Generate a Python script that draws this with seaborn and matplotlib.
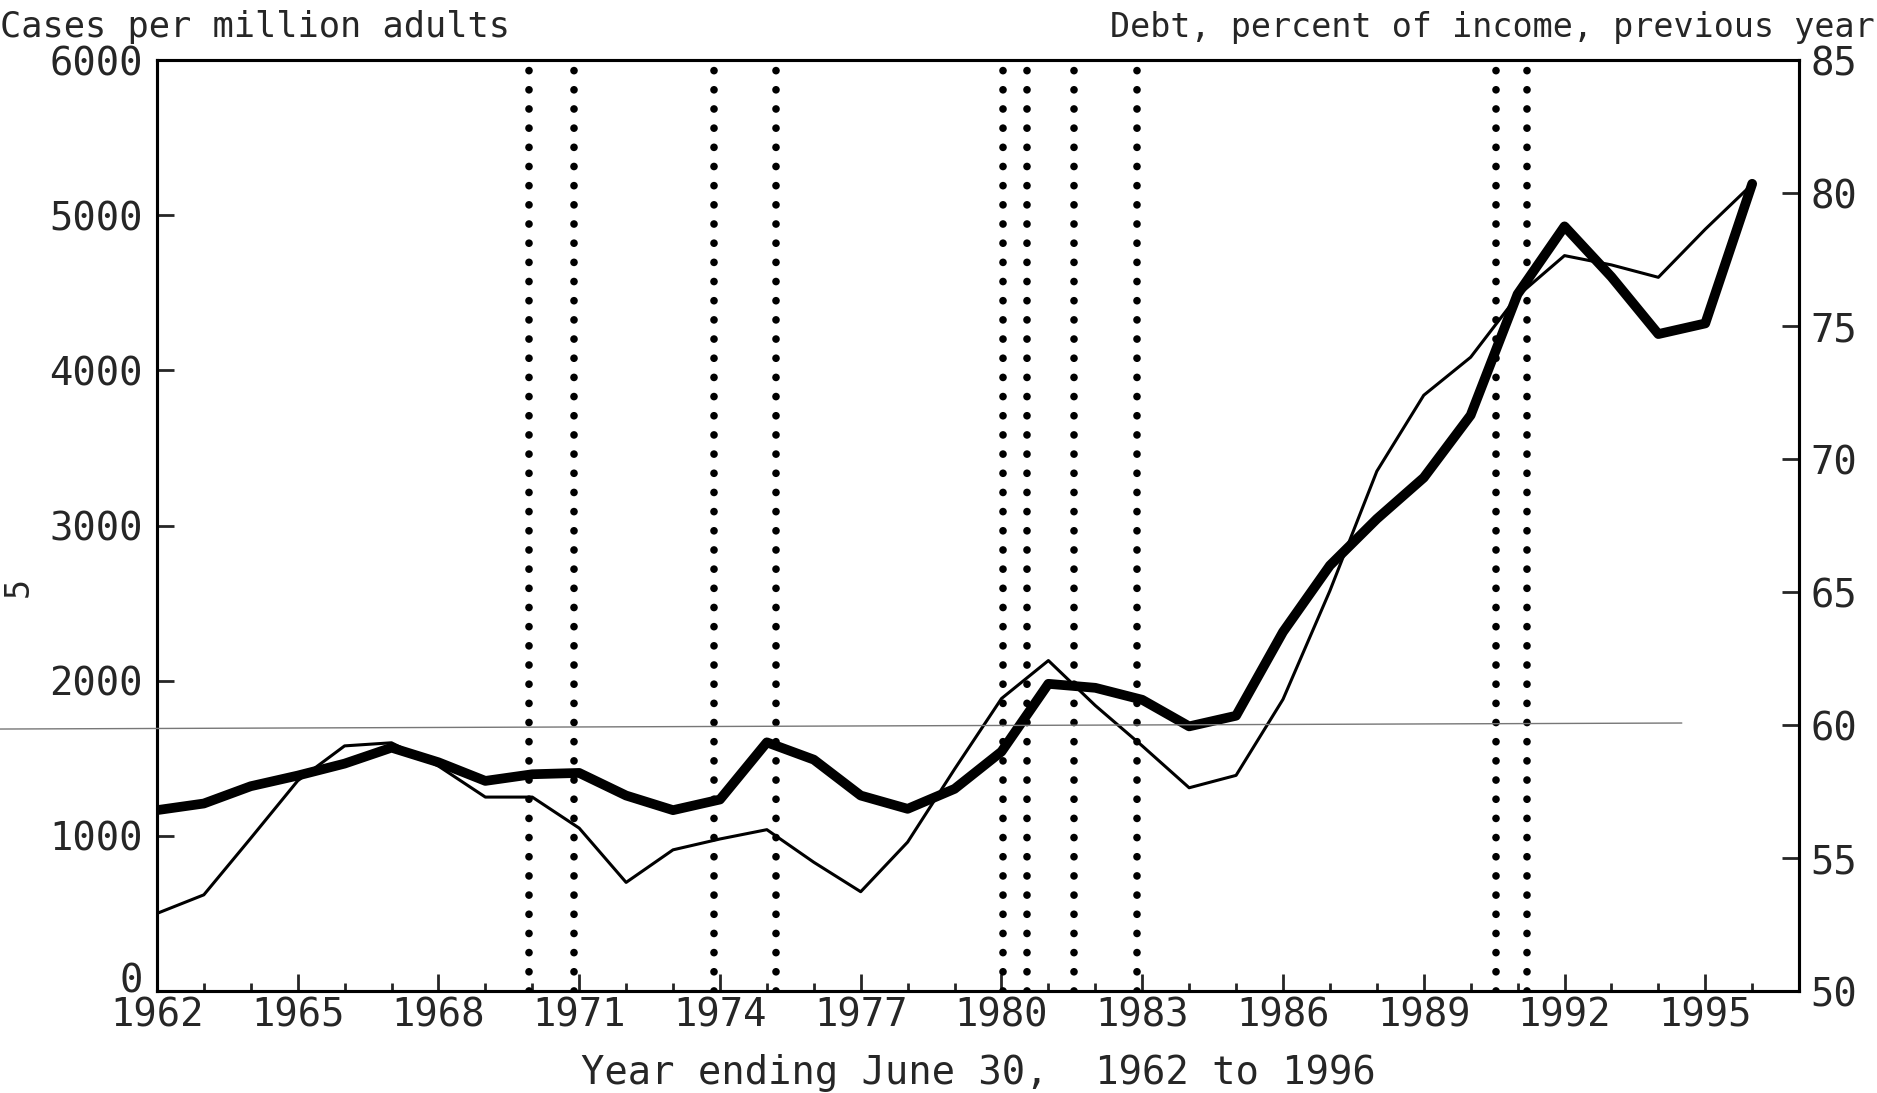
import seaborn as sns
import matplotlib.pyplot as plt
import pandas as pd
from matplotlib.lines import Line2D
from matplotlib.transforms import ScaledTranslation

years = list(range(1962, 1997))

# thin line: bankruptcy cases per million adults (left axis)
cases = [500, 620, 985, 1355, 1580, 1600, 1450, 1250, 1250, 1050,
         700, 910, 980, 1040, 830, 640, 960, 1430, 1885, 2130,
         1840, 1580, 1310, 1390, 1880, 2580, 3350, 3840, 4085, 4480,
         4740, 4680, 4600, 4910, 5200]

# thick line: debt, percent of income, previous year (right axis)
debt = [56.8, 57.05, 57.7, 58.1, 58.55, 59.15, 58.6, 57.9, 58.15, 58.2,
        57.35, 56.8, 57.2, 59.35, 58.7, 57.35, 56.85, 57.6, 59.0, 61.55,
        61.4, 60.95, 59.95, 60.35, 63.5, 66.0, 67.75, 69.3, 71.65, 76.2,
        78.75, 76.85, 74.7, 75.1, 80.35]

# recession start/end dates (dotted verticals)
recessions = [1969.92, 1970.88, 1973.88, 1975.2, 1980.04, 1980.54,
              1981.54, 1982.88, 1990.54, 1991.2]

left_ticks = [0, 1000, 2000, 3000, 4000, 5000, 6000]
right_ticks = [50, 55, 60, 65, 70, 75, 80, 85]
year_labels = list(range(1962, 1997, 3))

df = pd.DataFrame({"year": years, "cases": cases, "debt": debt})

sns.set_style("ticks")
plt.rcParams["font.family"] = ["DejaVu Sans Mono", "DejaVu Sans"]

fig = plt.figure(figsize=(18.77, 10.93), dpi=100)
ax = fig.add_axes([0.0836, 0.0933, 0.8749, 0.8517])
ax2 = ax.twinx()

sns.lineplot(data=df, x="year", y="cases", ax=ax, color="black", linewidth=2.2)
sns.lineplot(data=df, x="year", y="debt", ax=ax2, color="black", linewidth=7)

for r in recessions:
    ax.axvline(r, color="black", linewidth=5.5, linestyle=(0, (0.01, 2.5)),
               dash_capstyle="round", zorder=1)

ax.set_xlim(1962, 1997)
ax.set_ylim(0, 6000)
ax2.set_ylim(50, 85)

ax.set_xticks(year_labels)
ax.set_xticklabels([str(y) for y in year_labels])
ax.set_xticks(years + [1997], minor=True)
ax.set_yticks(left_ticks)
ax2.set_yticks(right_ticks)

ax.tick_params(axis="x", which="major", direction="in", length=12, width=2,
               labelsize=28, pad=4)
ax.tick_params(axis="x", which="minor", direction="in", length=6, width=2)
ax.tick_params(axis="y", direction="in", length=12, width=2, labelsize=28, pad=10)
ax2.tick_params(axis="y", direction="in", length=12, width=2, labelsize=28, pad=8)

# lift the "0" label so it sits just above 1962
zero_lbl = ax.get_yticklabels()[0]
zero_lbl.set_transform(zero_lbl.get_transform() + ScaledTranslation(0, 10 / 72, fig.dpi_scale_trans))

for a in (ax, ax2):
    for s in a.spines.values():
        s.set_linewidth(2.2)
        s.set_color("black")
        s.set_visible(True)

ax.set_xlabel("")
ax.set_ylabel("")
ax2.set_ylabel("")

fig.text(0.0, 0.975, "Cases per million adults", fontsize=25.5, ha="left", va="center")
fig.text(0.999, 0.975, "Debt, percent of income, previous year", fontsize=24,
         ha="right", va="center")
fig.text(0.521, 0.018, "Year ending June 30,  1962 to 1996", fontsize=28,
         ha="center", va="center")
fig.text(0.0096, 0.463, "5", fontsize=24, rotation=90, ha="center", va="center")

# faint scan line across the page
fig.add_artist(Line2D([0.0, 0.896], [0.333, 0.3385], color="#777777", linewidth=1))

fig.savefig("out.png", dpi=100)
